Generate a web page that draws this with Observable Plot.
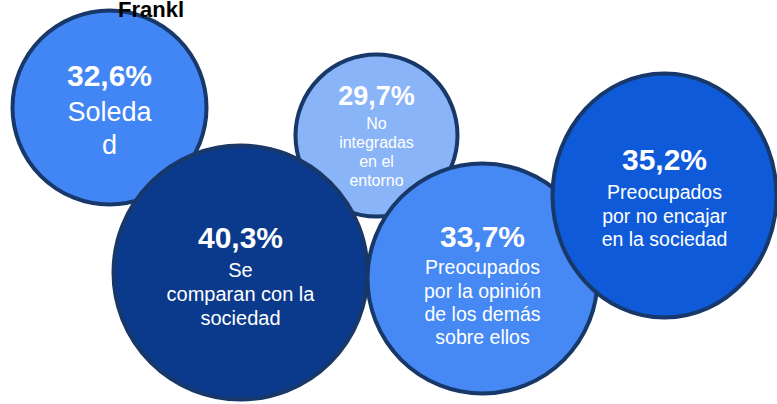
<!DOCTYPE html>
<html>
<head>
<meta charset="utf-8">
<script src="https://cdn.jsdelivr.net/npm/d3@7"></script>
<script src="https://cdn.jsdelivr.net/npm/@observablehq/plot@0.6"></script>
<style>
  html, body { margin: 0; padding: 0; background: #fff; }
  #wrap { position: relative; width: 777px; height: 404px; overflow: hidden; }
  #title { position: absolute; left: 118px; top: 0px; font: bold 22px Arial, "Liberation Sans", sans-serif; color: #000; z-index: 2; line-height: 20px; }
  svg { display: block; }
</style>
</head>
<body>
<div id="wrap"><div id="title"></div></div>
<script>
// ---- data ----
const title = "Frankl";
const pcts = [32.6, 29.7, 40.3, 33.7, 35.2];
const labels = [
  "Soleda\nd",
  "No\nintegradas\nen el\nentorno",
  "Se\ncomparan con la\nsociedad",
  "Preocupados\npor la opinión\nde los demás\nsobre ellos",
  "Preocupados\npor no encajar\nen la sociedad"
];

// ---- layout (pixel positions / sizes / styles) ----
const cx = [109, 376, 240, 482, 664];
const cy = [107, 135, 272, 278, 195];
const radius = [97, 81, 127, 115, 112];
const aspect = [1, 1, 1, 1, 1.09];
const fills = ["#4285F4", "#8AB4F8", "#0B3A8C", "#4689F4", "#0F5AD9"];
const pctBase = [85, 104, 247, 246, 169];
const pctSize = [30, 27, 30, 30, 30];
const labelBase = [117, 126, 274, 271, 196];
const labelSize = [27, 16, 20, 19.5, 19.5];

const fmt = v => v.toFixed(1).replace(".", ",") + "%";

const rows = pcts.map((v, i) => ({
  pct: fmt(v), label: labels[i], x: cx[i], y: cy[i], r: radius[i], k: aspect[i], fill: fills[i],
  pctTop: pctBase[i] - 0.71 * pctSize[i], pctSize: pctSize[i],
  labTop: labelBase[i] - 0.71 * labelSize[i], labSize: labelSize[i]
}));

function ellipse(k) {
  const c = 0.5522847;
  return {
    draw(ctx, size) {
      const rx = Math.sqrt(size / Math.PI), ry = rx * k;
      ctx.moveTo(rx, 0);
      ctx.bezierCurveTo(rx, ry * c, rx * c, ry, 0, ry);
      ctx.bezierCurveTo(-rx * c, ry, -rx, ry * c, -rx, 0);
      ctx.bezierCurveTo(-rx, -ry * c, -rx * c, -ry, 0, -ry);
      ctx.bezierCurveTo(rx * c, -ry, rx, -ry * c, rx, 0);
      ctx.closePath();
    }
  };
}

const bubbleMarks = rows.map(d => Plot.dot([d], {
  x: "x", y: "y", r: "r",
  fill: d.fill, stroke: "#173868", strokeWidth: 4,
  symbol: d.k === 1 ? "circle" : ellipse(d.k)
}));

const chart = Plot.plot({
  width: 777, height: 404,
  margin: 0,
  x: { type: "identity", axis: null },
  y: { type: "identity", axis: null },
  r: { type: "identity" },
  style: { fontFamily: "Arial, 'Liberation Sans', sans-serif", overflow: "visible" },
  marks: [
    ...bubbleMarks,
    Plot.text(rows, { x: "x", y: "pctTop", text: "pct", fontSize: d => d.pctSize, fontWeight: "bold", fill: "white", lineAnchor: "top", textAnchor: "middle" }),
    Plot.text(rows, { x: "x", y: "labTop", text: "label", fontSize: d => d.labSize, fill: "white", lineAnchor: "top", textAnchor: "middle", lineHeight: 1.2 })
  ]
});

document.getElementById("title").textContent = title;
document.getElementById("wrap").appendChild(chart);
</script>
</body>
</html>
